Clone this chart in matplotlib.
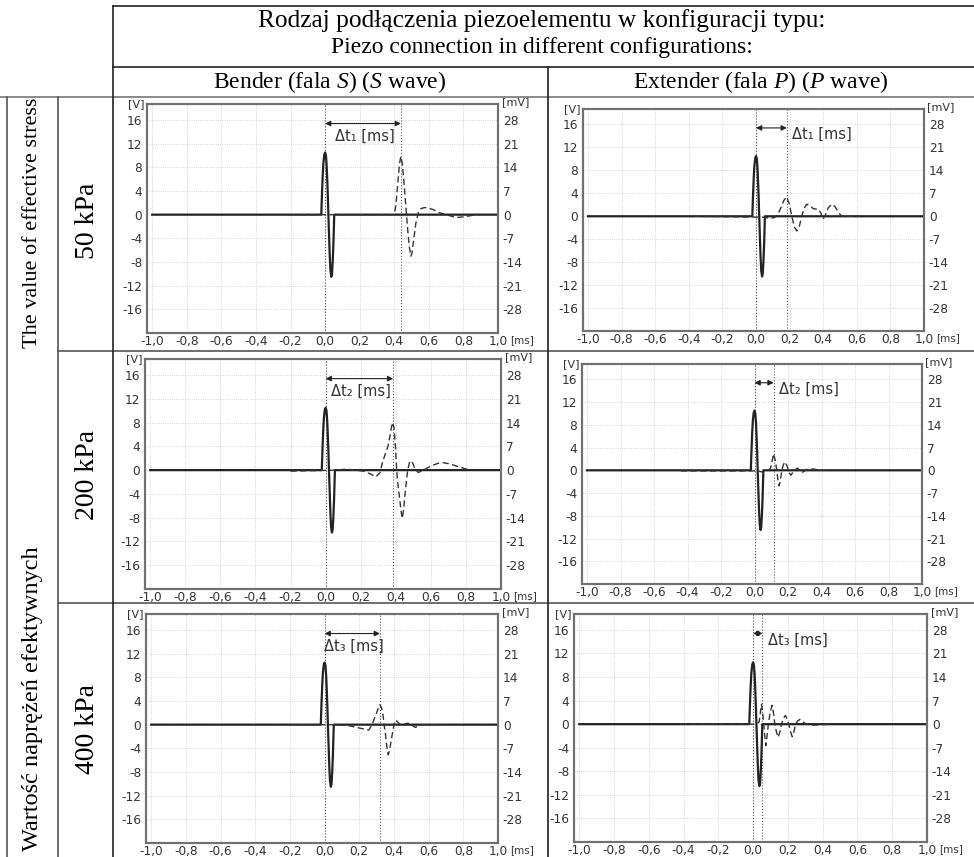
import matplotlib
matplotlib.use("Agg")
import matplotlib.pyplot as plt
from matplotlib.lines import Line2D

W, H = 974, 857

plt.rcParams['font.family'] = ['DejaVu Sans']
plt.rcParams['mathtext.fontset'] = 'custom'
plt.rcParams['mathtext.rm'] = 'Liberation Serif'
plt.rcParams['mathtext.it'] = 'Liberation Serif:italic'

SERIF = 'Liberation Serif'

# transmitter pulse, identical in all panels (ms, V)
PULSE_T = [-1.0, -0.022, -0.018, -0.014, -0.010, -0.005, 0.0, 0.005, 0.009, 0.013, 0.016, 0.019,
           0.023, 0.027, 0.031, 0.036, 0.040, 0.044, 0.048, 0.051, 0.053, 1.0]
PULSE_V = [0, 0, 3.5, 6.5, 8.7, 10.1, 10.5, 10.0, 8.3, 5.5, 3.0, 0,
           -3.5, -7.0, -9.5, -10.5, -10.0, -8.0, -5.0, -2.0, 0, 0]

# received signals (ms, mV)
S50_T = [-0.2, 0.40, 0.41, 0.42, 0.43, 0.438, 0.447, 0.457, 0.467, 0.477, 0.487, 0.496, 0.502, 0.512,
         0.525, 0.54, 0.555, 0.575, 0.595, 0.625, 0.66, 0.70, 0.74, 0.77, 0.81, 0.85, 0.875]
S50_MV = [0, 0, 3, 9, 15, 17.2, 15, 9, 2.5, -4, -9.5, -12.3, -11.5, -7.5,
          -2.5, 0.8, 1.8, 2.1, 2.0, 1.5, 0.6, 0, -0.6, -0.8, -0.6, -0.2, 0]

P50_T = [-0.37, 0.05, 0.08, 0.11, 0.13, 0.15, 0.165, 0.183, 0.198, 0.213, 0.228, 0.243, 0.258, 0.272,
         0.287, 0.302, 0.32, 0.342, 0.372, 0.386, 0.398, 0.412, 0.43, 0.451, 0.47, 0.49, 0.511, 0.62]
P50_MV = [0, -0.3, -0.6, -0.4, 0.6, 2.8, 4.8, 5.9, 3.8, 0, -3.2, -4.5, -3, 0,
          2.5, 3.7, 3.2, 2.3, 2.1, 1.0, -0.9, 0.3, 2.6, 3.7, 3.0, 1.2, 0, 0]

S200_T = [-0.2, 0.06, 0.12, 0.215, 0.26, 0.285, 0.31, 0.325, 0.338, 0.357, 0.37, 0.38, 0.39, 0.398,
          0.405, 0.413, 0.42, 0.43, 0.437, 0.445, 0.452, 0.46, 0.468, 0.478, 0.487, 0.497, 0.51,
          0.528, 0.557, 0.6, 0.64, 0.671, 0.71, 0.747, 0.79, 0.823]
S200_MV = [-0.3, 0, 0.3, -0.3, -1.2, -2.0, -0.8, 2.5, 4.4, 7.3, 11, 14, 12.5, 7,
           0, -4.5, -7.4, -12, -14.2, -11.5, -7.4, -3.5, 0, 2.2, 2.8, 2.0, 0.3,
           -0.7, 0, 1.2, 2.0, 2.2, 1.8, 1.2, 0.5, 0]

P200_T = [-0.44, 0.02, 0.044, 0.07, 0.094, 0.104, 0.114, 0.124, 0.133, 0.14, 0.147, 0.155, 0.163,
          0.173, 0.183, 0.193, 0.203, 0.21, 0.217, 0.227, 0.237, 0.257, 0.27, 0.283, 0.3, 0.313,
          0.353, 0.392, 0.43]
P200_MV = [-0.2, -0.2, -0.5, 0, 0.4, 2.5, 5.1, 3.0, 0, -3, -4.8, -3, 0,
           1.8, 2.6, 1.5, 0, -1.0, -1.5, -0.8, 0, 0.7, 0, -0.7, -0.2, 0.3,
           0.4, 0, 0]

S400_T = [-0.2, 0.063, 0.14, 0.2, 0.255, 0.274, 0.287, 0.298, 0.31, 0.319, 0.328, 0.336, 0.343,
          0.351, 0.359, 0.367, 0.375, 0.384, 0.4, 0.41, 0.425, 0.438, 0.45, 0.463, 0.476, 0.495,
          0.51, 0.524, 0.545, 0.562, 0.64]
S400_MV = [0, 0, -0.3, -1.0, -1.6, 0, 1.8, 3.2, 5.0, 5.9, 5.0, 3.2, 0,
           -2.8, -6.5, -8.9, -7.5, -4.7, 0, 1.4, 0.6, 0, -0.4, 0.2, 0.4, 0.4,
           -0.4, -0.8, -0.3, 0, 0]

P400_T = [-0.42, 0.019, 0.035, 0.042, 0.048, 0.054, 0.061, 0.067, 0.073, 0.08, 0.088, 0.098, 0.109,
          0.117, 0.125, 0.135, 0.144, 0.153, 0.163, 0.175, 0.186, 0.196, 0.205, 0.215, 0.225,
          0.235, 0.244, 0.257, 0.269, 0.288, 0.307, 0.345, 0.45]
P400_MV = [0, 0, 0.7, 3.5, 5.9, 4.0, 0, -3.5, -6.4, -3.5, 0, 3.5, 5.6,
           3.5, 0, -2.5, -3.9, -2.5, 0, 1.8, 2.6, 1.5, 0, -2.2, -3.7,
           -2.2, 0, 1.0, 1.4, 0.6, 0, -0.3, 0]

SIGNALS = [(S50_T, S50_MV), (P50_T, P50_MV), (S200_T, S200_MV),
           (P200_T, P200_MV), (S400_T, S400_MV), (P400_T, P400_MV)]
DT = [0.438, 0.183, 0.385, 0.114, 0.319, 0.054]
DT_NAMES = ["Δt₁ [ms]", "Δt₁ [ms]", "Δt₂ [ms]", "Δt₂ [ms]", "Δt₃ [ms]", "Δt₃ [ms]"]

X_TICKS = [-1.0, -0.8, -0.6, -0.4, -0.2, 0.0, 0.2, 0.4, 0.6, 0.8, 1.0]
X_LABELS = ["-1,0", "-0,8", "-0,6", "-0,4", "-0,2", "0,0", "0,2", "0,4", "0,6", "0,8", "1,0"]
V_TICKS = [16, 12, 8, 4, 0, -4, -8, -12, -16]
MV_TICKS = [28, 21, 14, 7, 0, -7, -14, -21, -28]

ROW_LABELS = ["50 kPa", "200 kPa", "400 kPa"]

# axes boxes in pixels: x0, y0, x1, y1
BOXES = [(147, 104, 498, 333), (583, 109, 924, 331),
         (145, 359, 501, 589), (582, 364, 922, 584),
         (146, 614, 498, 843), (574, 614, 927, 842)]

V_LIM = (-20, 18.7)
MV_LIM = (V_LIM[0] * 1.75, V_LIM[1] * 1.75)
X_LIM = (-1.03, 1.0)

fig = plt.figure(figsize=(W / 100, H / 100), dpi=100)


def fx(x):
    return x / W


def fy(y):
    return 1 - y / H


def hline(x0, x1, y, color='#222', lw=1.2):
    fig.add_artist(Line2D([fx(x0), fx(x1)], [fy(y), fy(y)], color=color, lw=lw))


def vline(x, y0, y1, color='#222', lw=1.2):
    fig.add_artist(Line2D([fx(x), fx(x)], [fy(y0), fy(y1)], color=color, lw=lw))


# table frame
hline(113, 974, 6)
hline(113, 974, 67)
hline(0, 974, 97, color='#777')
hline(58, 974, 351, color='#555')
hline(58, 974, 603, color='#555')
vline(113, 6, 857)
vline(548, 67, 857)
vline(7, 97, 857, color='#555')
vline(58, 97, 857, color='#555')

fig.text(fx(542), fy(21), "Rodzaj podłączenia piezoelementu w konfiguracji typu:",
         family=SERIF, fontsize=18.3, ha='center', va='center')
fig.text(fx(542), fy(48), "Piezo connection in different configurations:",
         family=SERIF, fontsize=17, ha='center', va='center')
fig.text(fx(330), fy(82), "Bender (fala $S$) ($S$ wave)",
         family=SERIF, fontsize=17, ha='center', va='center')
fig.text(fx(761), fy(82), "Extender (fala $P$) ($P$ wave)",
         family=SERIF, fontsize=17, ha='center', va='center')
fig.text(fx(33), fy(223), "The value of effective stress", family=SERIF, fontsize=16,
         rotation=90, ha='center', va='center')
fig.text(fx(33), fy(699), "Wartość naprężeń efektywnych", family=SERIF, fontsize=17.5,
         rotation=90, ha='center', va='center')
for i, lab in enumerate(ROW_LABELS):
    fig.text(fx(87), fy([221, 475, 729][i]), lab, family=SERIF, fontsize=20,
             rotation=90, ha='center', va='center')

for i, (x0, y0, x1, y1) in enumerate(BOXES):
    ax = fig.add_axes([fx(x0), fy(y1), (x1 - x0) / W, (y1 - y0) / H])
    ax2 = ax.twinx()

    t, mv = SIGNALS[i]
    ax2.plot(t, mv, color='#333', lw=1.0, dashes=(4.5, 2.5))
    ax.plot(PULSE_T, PULSE_V, color='#222', lw=1.6, zorder=3)

    ax.set_xlim(*X_LIM)
    ax.set_ylim(*V_LIM)
    ax2.set_ylim(*MV_LIM)
    ax.set_xticks(X_TICKS)
    ax.set_xticklabels(X_LABELS)
    ax.set_yticks(V_TICKS)
    ax.set_yticklabels([str(v) for v in V_TICKS])
    ax2.set_yticks(MV_TICKS)
    ax2.set_yticklabels([str(v) for v in MV_TICKS])
    ax.grid(True, color='#c8c8c8', lw=0.6, ls=':')
    ax.set_axisbelow(True)

    for a in (ax, ax2):
        a.tick_params(length=0, pad=3.5, labelsize=8.7, colors='#333')
        for s in a.spines.values():
            s.set_color('#707070')
            s.set_linewidth(1.5)
    ax.tick_params(axis='x', pad=1.2)

    ax.axvline(0, color='#555', lw=0.8, ls=':', zorder=2)
    ax.axvline(DT[i], color='#555', lw=0.8, ls=':', zorder=2)
    ax.annotate('', xy=(DT[i], 15.4), xytext=(0, 15.4),
                arrowprops=dict(arrowstyle='<|-|>', color='#222', lw=0.8,
                                mutation_scale=8, shrinkA=0, shrinkB=0))
    if i % 2 == 0:
        ax.text(DT[i] / 2 + 0.01, 13.3, DT_NAMES[i], fontsize=10.5, color='#333',
                ha='center', va='center')
    else:
        ax.text(DT[i] + 0.03, 14.3, DT_NAMES[i], fontsize=10.5, color='#333',
                ha='left', va='center')

    ax.text(-0.008, 1.0, "[V]", transform=ax.transAxes, fontsize=8, color='#333',
            ha='right', va='center')
    ax.text(1.01, 1.01, "[mV]", transform=ax.transAxes, fontsize=8, color='#333',
            ha='left', va='center')
    ax.annotate("[ms]", xy=(1.0, 0), xycoords='axes fraction', xytext=(9, -1.5),
                textcoords='offset points', fontsize=7.5, color='#333', ha='left', va='top')

fig.savefig("out.png", dpi=100)
